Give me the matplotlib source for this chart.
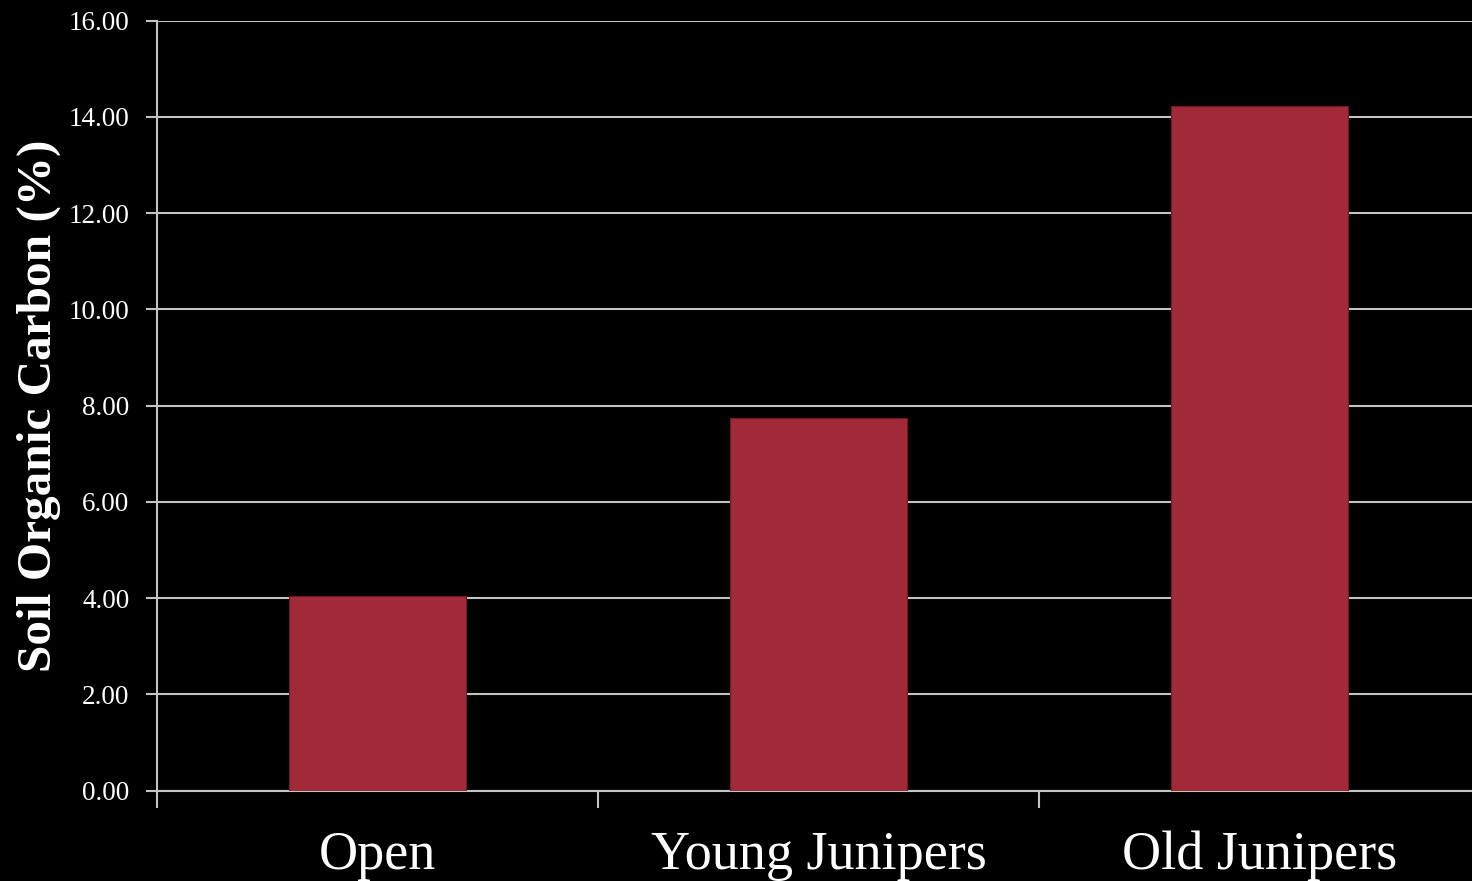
import numpy as np
import matplotlib.pyplot as plt

plt.rcParams['font.family'] = ['Liberation Serif', 'DejaVu Serif']

sites = ["Open", "Young Junipers", "Old Junipers"]
soc = [4.04, 7.74, 14.22]
yticks = [0, 2, 4, 6, 8, 10, 12, 14, 16]

fig = plt.figure(figsize=(14.72, 8.81), dpi=100, facecolor="black")
ax = fig.add_axes([0.1067, 0.1027, 0.8988, 0.874], facecolor="black")

x = np.arange(len(sites))
ax.bar(x, soc, width=0.4, color="#a22a38", edgecolor="#6e1a24", linewidth=0.8, zorder=3)

ax.set_xlim(-0.5, 2.5)
ax.set_ylim(0, 16)
ax.set_yticks(yticks)
ax.set_yticklabels(["%.2f" % v for v in yticks], fontsize=19.5, color="white")
ax.yaxis.grid(True, color="#c4c4c4", linewidth=1.5, zorder=0)

# category labels sit between boundary ticks
ax.set_xticks([-0.5, 0.5, 1.5, 2.5])
ax.set_xticklabels([])
ax.set_xticks(x, minor=True)
ax.set_xticklabels(sites, minor=True, fontsize=39, color="white")
ax.tick_params(axis="x", which="minor", length=0, pad=29)
ax.tick_params(axis="x", which="major", length=12, width=1.5, color="#c4c4c4")
ax.tick_params(axis="y", length=8, width=1.5, color="#c4c4c4", pad=12)

for s in ["top", "right"]:
    ax.spines[s].set_visible(False)
for s in ["left", "bottom"]:
    ax.spines[s].set_color("#c4c4c4")
    ax.spines[s].set_linewidth(1.5)

ax.set_ylabel("Soil Organic Carbon (%)", fontsize=35.5, fontweight="bold", color="white", labelpad=5)

fig.savefig("out.png", dpi=100, facecolor="black")
